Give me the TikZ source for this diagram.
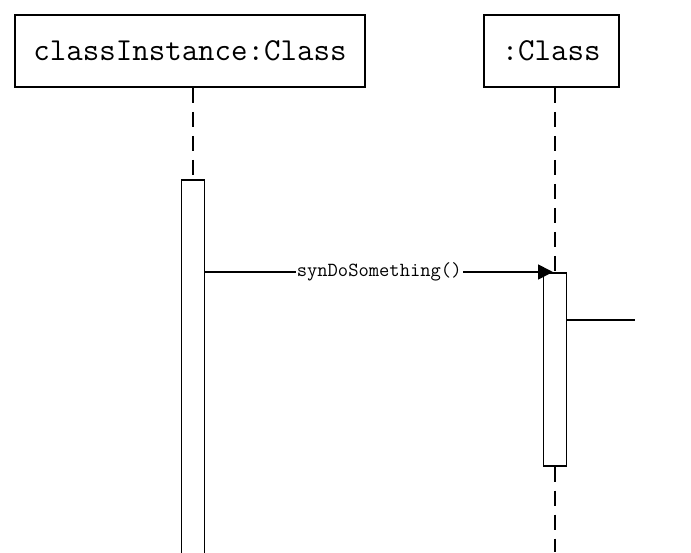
\documentclass[tikz,border=0pt]{standalone}
\usetikzlibrary{arrows.meta,positioning}

\begin{document}
\begin{tikzpicture}[
  x=1pt, y=-1pt,
  line width=1.7pt,
  obj/.style={draw, minimum height=72pt, font=\ttfamily\fontsize{32}{35}\selectfont, inner sep=0pt},
  act/.style={draw, fill=white, minimum width=23pt, anchor=north, inner sep=0pt},
  life/.style={dash pattern=on 15pt off 9pt},
  msg/.style={-{Triangle[length=15pt,width=15pt]}},
  msglabel/.style={fill=white, inner sep=1pt, font=\ttfamily\fontsize{20}{22}\selectfont}
]
\useasboundingbox (0,0) rectangle (691,552);

\node[obj, minimum width=350pt] (inst) at (190,51) {classInstance:Class};
\node[obj, minimum width=135pt, right=117pt of inst] (cls) {:Class};

\node[act, minimum height=380pt] (act1) at (193,179) {};
\node[act, minimum height=193pt] (act2) at (555,272) {};
\coordinate (out) at (635,320);
\coordinate (end2) at (act2.south |- 0,552);

% lifelines
\draw[life] (act1.north |- inst.south) -- (act1.north);
\draw[life] (act2.north |- cls.south) -- (act2.north);
\draw[life] (act2.south) -- (end2);

% messages
\draw[msg] (act1.east |- act2.north) -- node[msglabel, pos=0.5] {synDoSomething()} ([xshift=-2pt]act2.north);
\draw (act2.east |- out) -- (out);
\end{tikzpicture}
\end{document}
